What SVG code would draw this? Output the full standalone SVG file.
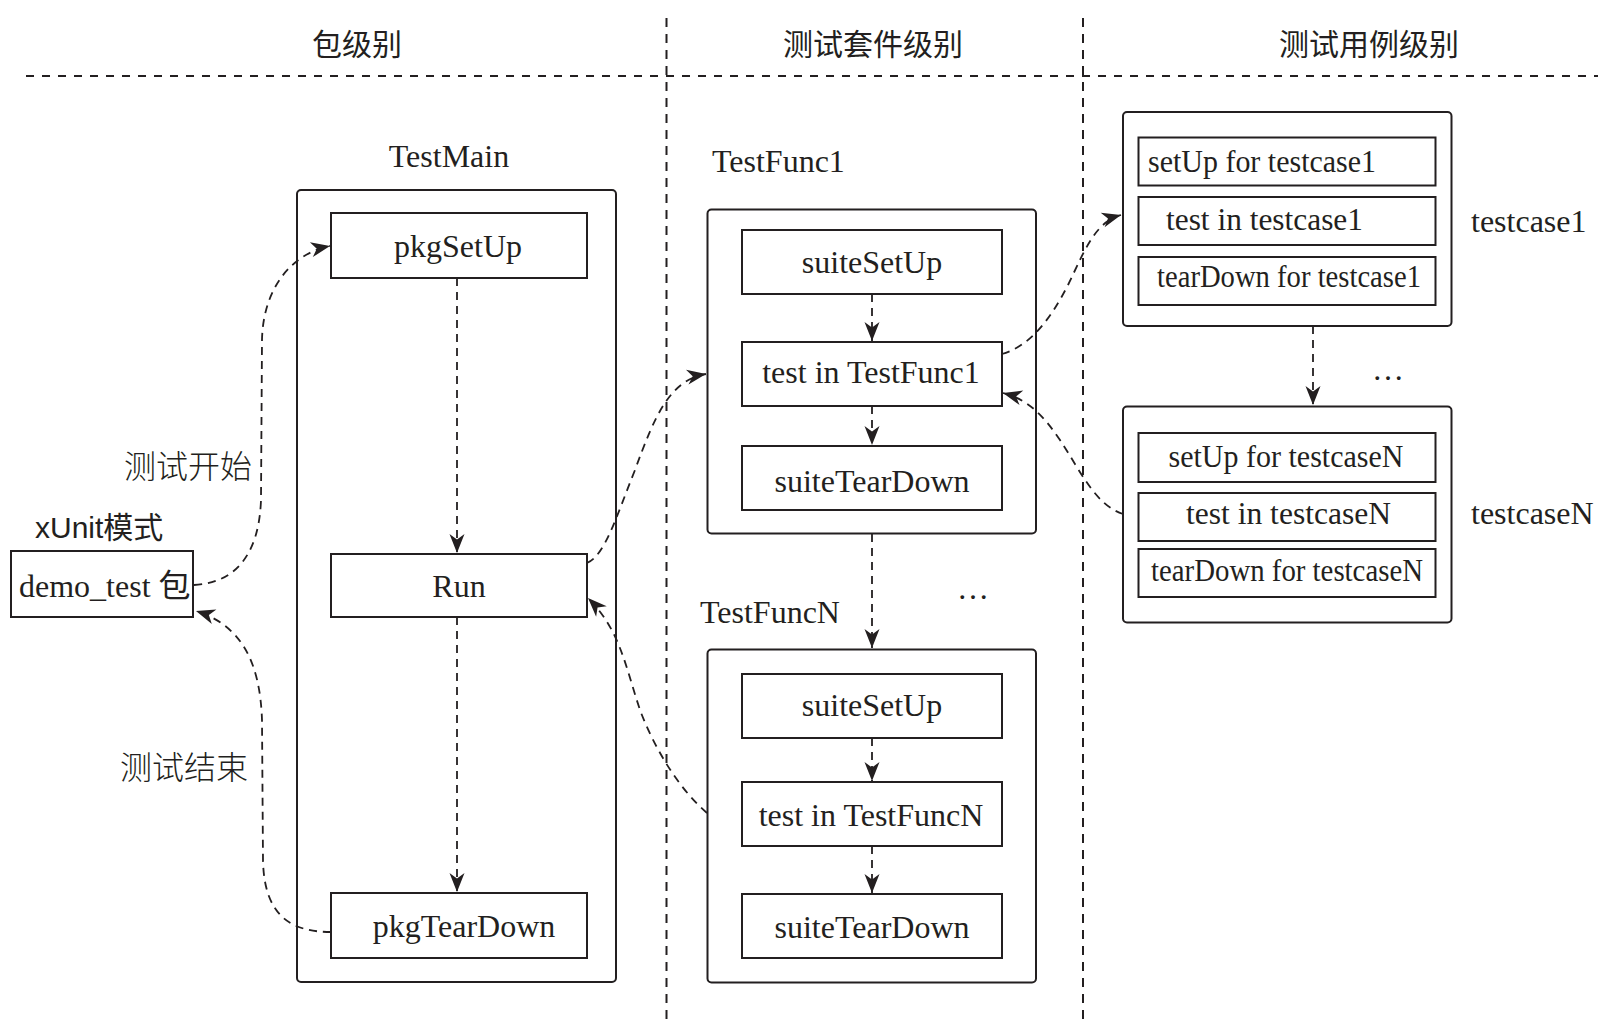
<svg xmlns="http://www.w3.org/2000/svg" width="1605" height="1021" viewBox="0 0 1605 1021">
<defs>
<marker id="ah" markerUnits="userSpaceOnUse" viewBox="-21 -10 23 20" refX="0" refY="0" markerWidth="23" markerHeight="20" orient="auto">
<path d="M0,0 L-19,-7.5 L-13.5,0 L-19,7.5 Z" fill="#231f20"/>
</marker>
</defs>
<style>
.sep{stroke:#231f20;stroke-width:2;stroke-dasharray:8 8;fill:none}
.vsep{stroke:#231f20;stroke-width:2;stroke-dasharray:9 7;fill:none}
.outer{fill:none;stroke:#231f20;stroke-width:2}
.box{fill:#fff;stroke:#231f20;stroke-width:2}
.t{font-family:"Liberation Serif","Noto Sans CJK SC",serif;font-size:32px;fill:#231f20}
.c{text-anchor:middle}
.h{font-family:"Noto Sans CJK SC",sans-serif;font-size:30px;fill:#231f20;text-anchor:middle}
.lbl{font-family:"Noto Sans CJK SC",sans-serif;font-size:32px;font-weight:300;fill:#231f20}
.xu{font-family:"Liberation Sans","Noto Sans CJK SC",sans-serif;font-size:30px;fill:#231f20}
.conn{fill:none;stroke:#231f20;stroke-width:1.8;stroke-dasharray:8 6;marker-end:url(#ah)}
</style>
<rect width="1605" height="1021" fill="#fff"/>

<g id="separators">
<line class="sep" x1="26" y1="76" x2="1598" y2="76"/>
<line class="vsep" x1="666.5" y1="18" x2="666.5" y2="1021"/>
<line class="vsep" x1="1083" y1="18" x2="1083" y2="1021"/>
</g>

<g id="headers">
<text class="h" x="357" y="55">包级别</text>
<text class="h" x="873" y="55">测试套件级别</text>
<text class="h" x="1369" y="55">测试用例级别</text>
</g>

<g id="demo_test">
<text class="xu" x="35" y="538">xUnit模式</text>
<rect class="box" x="11" y="551" width="182" height="66"/>
<text class="t" x="19" y="597">demo_test 包</text>
</g>

<text class="lbl" x="124" y="478">测试开始</text>
<text class="lbl" x="120" y="779">测试结束</text>

<g id="TestMain">
<text class="t c" x="449" y="167">TestMain</text>
<rect class="outer" x="297" y="190" width="319" height="792" rx="4"/>
</g>
<g id="pkgSetUp">
<rect class="box" x="331" y="213" width="256" height="65"/>
<text class="t c" x="458" y="257">pkgSetUp</text>
</g>
<g id="Run">
<rect class="box" x="331" y="554" width="256" height="63"/>
<text class="t c" x="459" y="597">Run</text>
</g>
<g id="pkgTearDown">
<rect class="box" x="331" y="893" width="256" height="65"/>
<text class="t c" x="464" y="937">pkgTearDown</text>
</g>

<g id="TestFunc1">
<text class="t" x="712" y="172">TestFunc1</text>
<rect class="outer" x="707.5" y="209.5" width="328.5" height="324" rx="4"/>
</g>
<g id="suiteSetUp1">
<rect class="box" x="742" y="230" width="260" height="64"/>
<text class="t c" x="872" y="273">suiteSetUp</text>
</g>
<g id="testInTestFunc1">
<rect class="box" x="742" y="342" width="260" height="64"/>
<text class="t c" x="871" y="383">test in TestFunc1</text>
</g>
<g id="suiteTearDown1">
<rect class="box" x="742" y="446" width="260" height="64"/>
<text class="t c" x="872" y="492">suiteTearDown</text>
</g>

<text class="t c" x="973" y="599">…</text>

<g id="TestFuncN">
<text class="t" x="700" y="622.5">TestFuncN</text>
<rect class="outer" x="707.5" y="649.5" width="328.5" height="333" rx="4"/>
</g>
<g id="suiteSetUpN">
<rect class="box" x="742" y="674" width="260" height="64"/>
<text class="t c" x="872" y="715.5">suiteSetUp</text>
</g>
<g id="testInTestFuncN">
<rect class="box" x="742" y="782" width="260" height="64"/>
<text class="t c" x="871" y="826">test in TestFuncN</text>
</g>
<g id="suiteTearDownN">
<rect class="box" x="742" y="894" width="260" height="64"/>
<text class="t c" x="872" y="937.5">suiteTearDown</text>
</g>

<g id="testcase1">
<rect class="outer" x="1123" y="112" width="328.5" height="214" rx="4"/>
<rect class="box" x="1138.5" y="137.5" width="297" height="48"/>
<text class="t" x="1148" y="172" textLength="228" lengthAdjust="spacingAndGlyphs">setUp for testcase1</text>
<rect class="box" x="1138.5" y="197" width="297" height="48"/>
<text class="t" x="1166" y="230" textLength="197" lengthAdjust="spacingAndGlyphs">test in testcase1</text>
<rect class="box" x="1138.5" y="257" width="297" height="48"/>
<text class="t" x="1157" y="287" textLength="264" lengthAdjust="spacingAndGlyphs">tearDown for testcase1</text>
<text class="t" x="1471" y="232">testcase1</text>
</g>

<text class="t c" x="1388" y="380">…</text>

<g id="testcaseN">
<rect class="outer" x="1123" y="406.5" width="328.5" height="216" rx="4"/>
<rect class="box" x="1138.5" y="433" width="297" height="49"/>
<text class="t" x="1168.5" y="467" textLength="235" lengthAdjust="spacingAndGlyphs">setUp for testcaseN</text>
<rect class="box" x="1138.5" y="493" width="297" height="48"/>
<text class="t" x="1186" y="524" textLength="205" lengthAdjust="spacingAndGlyphs">test in testcaseN</text>
<rect class="box" x="1138.5" y="549" width="297" height="48"/>
<text class="t" x="1151" y="581" textLength="272" lengthAdjust="spacingAndGlyphs">tearDown for testcaseN</text>
<text class="t" x="1471" y="524">testcaseN</text>
</g>

<g id="connectors">
<path class="conn" d="M194,585 C235,583 259,555 261,500 L262,340 C263,290 290,254 330,246"/>
<path class="conn" d="M331,932 C290,932 264,915 263,860 L262,720 C260,660 240,625 196,611"/>
<path class="conn" d="M457,278 L457,553"/>
<path class="conn" d="M457,617 L457,892"/>
<path class="conn" d="M587,563 C605,555 615,520 635,470 C655,415 670,380 706,374"/>
<path class="conn" d="M707,813 C680,790 655,750 640,710 C625,665 620,630 588,598"/>
<path class="conn" d="M872,294 L872,341"/>
<path class="conn" d="M872,406 L872,445"/>
<path class="conn" d="M872,534 L872,648"/>
<path class="conn" d="M872,738 L872,781"/>
<path class="conn" d="M872,846 L872,893"/>
<path class="conn" d="M1002,354 C1030,346 1050,320 1068,285 C1085,250 1095,222 1121,215"/>
<path class="conn" d="M1123,514 C1095,505 1080,470 1060,440 C1045,418 1030,400 1003,393"/>
<path class="conn" d="M1313,326 L1313,405"/>
</g>
</svg>
